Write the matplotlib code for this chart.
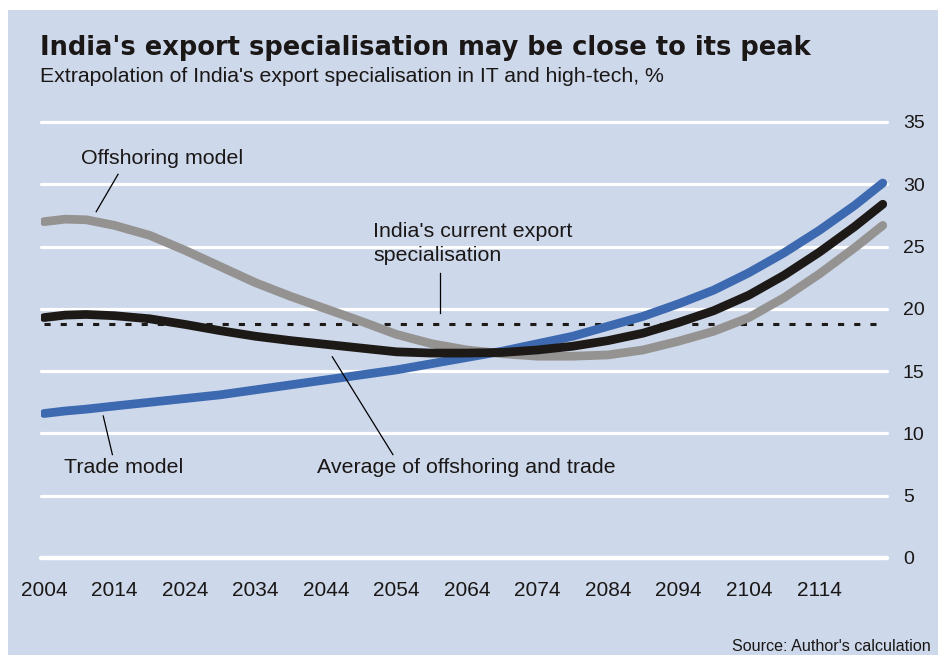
import matplotlib.pyplot as plt
from matplotlib.patches import Rectangle

# =========================
# DATA (%)
# =========================
years = [2004, 2007, 2010, 2014, 2019, 2024, 2029, 2034, 2039, 2044, 2049, 2054, 2059,
         2064, 2069, 2074, 2079, 2084, 2089, 2094, 2099, 2104, 2109, 2114, 2119, 2123]

trade = [11.6, 11.8, 11.95, 12.2, 12.5, 12.8, 13.1, 13.5, 13.9, 14.3, 14.7, 15.1, 15.6,
         16.1, 16.6, 17.2, 17.8, 18.6, 19.4, 20.4, 21.5, 22.9, 24.5, 26.3, 28.3, 30.1]

offshoring = [27.0, 27.2, 27.15, 26.7, 25.9, 24.7, 23.4, 22.1, 21.0, 20.0, 19.0, 17.95, 17.2,
              16.7, 16.4, 16.2, 16.2, 16.3, 16.7, 17.4, 18.2, 19.3, 20.9, 22.8, 24.9, 26.7]

average = [19.3, 19.5, 19.55, 19.45, 19.2, 18.75, 18.25, 17.8, 17.45, 17.15, 16.85, 16.55, 16.45,
           16.45, 16.5, 16.7, 17.0, 17.45, 18.05, 18.9, 19.85, 21.1, 22.7, 24.55, 26.6, 28.4]

current_spec = 18.8

xticks = [2004, 2014, 2024, 2034, 2044, 2054, 2064, 2074, 2084, 2094, 2104, 2114]
yticks = [0, 5, 10, 15, 20, 25, 30, 35]

# =========================
# STYLE
# =========================
BG = "#cdd8ea"
BLUE = "#3d69b0"
BLACK = "#1d1917"
GREY = "#959391"
TXT = "#1a1716"

plt.rcParams['font.family'] = ['Liberation Sans', 'DejaVu Sans']

W, H = 938, 655
fig = plt.figure(figsize=(W / 100, H / 100), dpi=100)
fig.patch.set_facecolor("white")
fig.patches.append(Rectangle((8 / W, 0), 1 - 8 / W, 1 - 10 / H,
                             transform=fig.transFigure, facecolor=BG,
                             edgecolor="none", zorder=-5))

ax = fig.add_axes([41 / W, 1 - 558 / H, (887 - 41) / W, (558 - 122) / H])
ax.set_zorder(2)
ax.set_facecolor("none")
ax.set_xlim(2003.57, 2123.6)
ax.set_ylim(0, 35)
for s in ax.spines.values():
    s.set_visible(False)

# gridlines
for v in yticks:
    ax.axhline(v, color="white", lw=3.2 if v == 0 else 2.3,
               solid_capstyle="round", clip_on=False, zorder=1)

ax.yaxis.tick_right()
ax.set_yticks(yticks)
ax.set_xticks(xticks)
ax.tick_params(axis="y", length=0, pad=11.5, labelsize=14, labelcolor=TXT)
ax.tick_params(axis="x", length=0, pad=16.5, labelsize=15, labelcolor=TXT)

# dotted line: current specialisation
ax.hlines(current_spec, years[0], 2122.6, colors=BLACK, lw=2.2,
          linestyles=(0, (2.0, 3.3)), zorder=2)

# curves
ax.plot(years, offshoring, color=GREY, lw=6.3, solid_capstyle="round",
        solid_joinstyle="round", zorder=3)
ax.plot(years, trade, color=BLUE, lw=6.3, solid_capstyle="round",
        solid_joinstyle="round", zorder=4)
ax.plot(years, average, color=BLACK, lw=6.3, solid_capstyle="round",
        solid_joinstyle="round", zorder=5)

# =========================
# ANNOTATIONS
# =========================
fs = 15.4
lk = dict(color="black", lw=0.9, zorder=6)
ax.plot([2011.4, 2014.5], [27.8, 30.8], **lk)
ax.text(2020.7, 32.1, "Offshoring model", ha="center", va="center", fontsize=fs, color=TXT)

ax.plot([2012.4, 2013.7], [11.4, 8.3], **lk)
ax.text(2006.8, 7.24, "Trade model", ha="left", va="center", fontsize=fs, color=TXT)

ax.plot([2044.9, 2053.5], [16.15, 8.3], **lk)
ax.text(2042.7, 7.24, "Average of offshoring and trade", ha="left", va="center",
        fontsize=fs, color=TXT)

ax.plot([2060.2, 2060.2], [22.9, 19.7], **lk)
ax.text(2050.7, 25.24, "India's current export\nspecialisation", ha="left", va="center",
        fontsize=fs, linespacing=1.3, color=TXT)

# titles
fig.text(40 / W, 1 - 55 / H, "India's export specialisation may be close to its peak",
         fontsize=18.5, fontweight="bold", family="DejaVu Sans",
         ha="left", va="baseline", color=TXT)
fig.text(40 / W, 1 - 81.5 / H, "Extrapolation of India's export specialisation in IT and high-tech, %",
         fontsize=15.3, ha="left", va="baseline", color=TXT)
fig.text(931 / W, 1 - 651 / H, "Source: Author's calculation",
         fontsize=11.6, ha="right", va="baseline", color=TXT)

plt.savefig("out.png", dpi=100)
